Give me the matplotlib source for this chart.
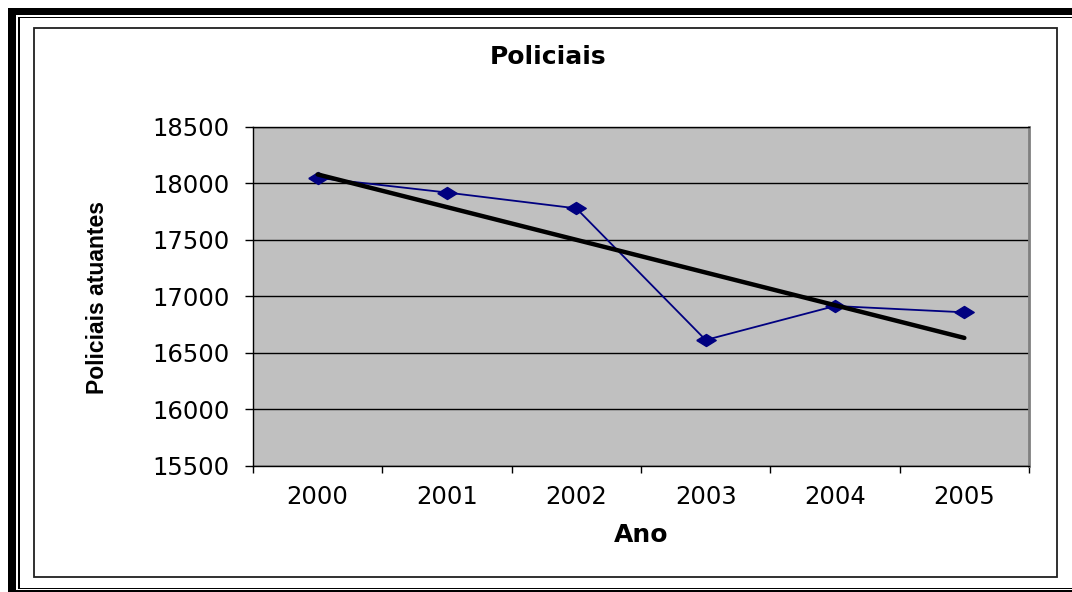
import numpy as np
import matplotlib
matplotlib.use("Agg")
import matplotlib.pyplot as plt
from matplotlib.patches import Rectangle

# Data
anos = ["2000", "2001", "2002", "2003", "2004", "2005"]
policiais = [18050, 17920, 17780, 16615, 16916, 16860]
yticks = [15500, 16000, 16500, 17000, 17500, 18000, 18500]

W, H = 1072, 592


def px(x, y):
    # pixel (from top-left) -> figure fraction
    return x / W, 1 - y / H


fig = plt.figure(figsize=(W / 100, H / 100), dpi=100)
fig.patch.set_facecolor("white")

# decorative page borders (thick + thin double line) and chart-area frame
def band(x0, y0, x1, y1, color="black"):
    fx0, fy1 = px(x0, y0)
    fx1, fy0 = px(x1, y1)
    fig.add_artist(Rectangle((fx0, fy0), fx1 - fx0, fy1 - fy0,
                             transform=fig.transFigure, facecolor=color,
                             edgecolor="none", zorder=10))

band(8, 8, W, 15)      # top thick
band(8, 8, 16, H)      # left thick
band(18, 16.5, W, 18)  # top thin
band(18, 16.5, 19.5, 589)  # left thin
band(18, 587.5, W, 589)    # bottom thin
band(8, 590, W, H)     # bottom thick

fx0, fy1 = px(34, 28)
fx1, fy0 = px(1057, 577)
fig.add_artist(Rectangle((fx0, fy0), fx1 - fx0, fy1 - fy0,
                         transform=fig.transFigure, facecolor="none",
                         edgecolor="#202020", lw=1.3, zorder=10))

# plot area
l, t = px(253, 127)
r, b = px(1029, 466)
ax = fig.add_axes([l, b, r - l, t - b])
ax.set_facecolor("#C0C0C0")

x = np.arange(len(anos))
y = np.array(policiais, dtype=float)

diamond = [(-1, 0), (0, 0.62), (1, 0), (0, -0.62), (-1, 0)]
ax.plot(x, y, color="#000080", lw=1.3, marker=diamond, markersize=14,
        markerfacecolor="#000080", markeredgecolor="#000080", zorder=3)

# linear trendline
coef = np.polyfit(x, y, 1)
ax.plot(x, np.polyval(coef, x), color="black", lw=3.2,
        solid_capstyle="round", zorder=4)

ax.set_xlim(-0.5, len(anos) - 0.5)
ax.set_ylim(yticks[0], yticks[-1])
ax.set_yticks(yticks)
ax.yaxis.grid(True, color="black", lw=1.0)
ax.set_axisbelow(True)

ax.set_xticks(x)
ax.set_xticklabels(anos)
ax.set_xticks(np.arange(-0.5, len(anos)), minor=True)
ax.tick_params(axis="x", which="major", length=0, pad=14)
ax.tick_params(axis="x", which="minor", length=5, width=1, color="black")
ax.tick_params(axis="y", length=6, width=1, color="black", pad=11)

for lab in ax.get_xticklabels() + ax.get_yticklabels():
    lab.set_fontfamily("DejaVu Sans")
    lab.set_fontsize(17.5)
    lab.set_color("black")

for s in ["left", "bottom", "top"]:
    ax.spines[s].set_color("black")
    ax.spines[s].set_linewidth(1.0)
ax.spines["right"].set_color("#808080")
ax.spines["right"].set_linewidth(2.0)

# titles
tx, ty = px(548, 57)
fig.text(tx, ty, "Policiais", ha="center", va="center",
         fontsize=18, fontweight="bold", family="DejaVu Sans")
tx, ty = px(641, 535)
fig.text(tx, ty, "Ano", ha="center", va="center",
         fontsize=18, fontweight="bold", family="DejaVu Sans")
tx, ty = px(98, 298)
fig.text(tx, ty, "Policiais atuantes", ha="center", va="center",
         rotation=90, fontsize=16.5, fontweight="bold",
         family="Liberation Sans")

fig.savefig("out.png", dpi=100, facecolor="white")
